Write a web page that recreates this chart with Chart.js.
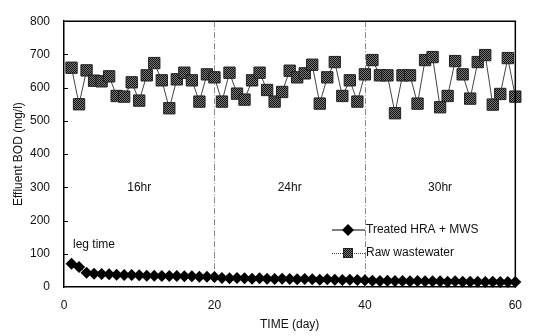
<!DOCTYPE html>
<html>
<head>
<meta charset="utf-8">
<script src="https://cdn.jsdelivr.net/npm/chart.js@4.4.0/dist/chart.umd.min.js"></script>
<style>
  html, body { margin: 0; padding: 0; background: #fff; }
  #wrap { width: 533px; height: 336px; }
</style>
</head>
<body>
<div id="wrap"><canvas id="bodChart"></canvas></div>
<script>
// days of operation
var days = [1, 2, 3, 4, 5, 6, 7, 8, 9, 10, 11, 12, 13, 14, 15, 16, 17, 18, 19, 20,
            21, 22, 23, 24, 25, 26, 27, 28, 29, 30, 31, 32, 33, 34, 35, 36, 37, 38, 39, 40,
            41, 42, 43, 44, 45, 46, 47, 48, 49, 50, 51, 52, 53, 54, 55, 56, 57, 58, 59, 60];

// effluent BOD, treated HRA + MWS (mg/l)
var treated = [70, 60, 43, 40, 39, 38, 37, 36, 36, 35, 34, 34, 33, 33, 33, 32, 32, 31, 31, 30,
               27, 26, 27, 26, 25, 26, 25, 24, 25, 24, 23, 24, 23, 22, 23, 22, 21, 22, 21, 20,
               19, 18, 19, 18, 18, 17, 18, 17, 17, 17, 16, 17, 16, 16, 16, 15, 16, 15, 15, 15];

// raw wastewater BOD (mg/l)
var raw = [660, 550, 652, 621, 619, 634, 575, 573, 616, 561, 637, 674, 622, 538, 625, 645, 622, 558, 640, 631,
           558, 645, 582, 564, 622, 645, 593, 558, 587, 651, 631, 643, 669, 552, 631, 677, 575, 622, 558, 640,
           683, 637, 637, 523, 637, 637, 552, 683, 692, 541, 575, 680, 640, 567, 677, 698, 549, 581, 689, 573];

var seriesNames = ['Treated HRA + MWS', 'Raw wastewater'];
var phaseBounds = [20, 40];
var phaseLabels = ['16hr', '24hr', '30hr'];
var phaseLabelX = [10, 30, 50];
var phaseLabelY = 300;

var FONT = 'Liberation Sans, Arial, sans-serif';

// halftone fill like the scanned squares
function makePattern() {
    var c = document.createElement('canvas');
    c.width = 2; c.height = 2;
    var g = c.getContext('2d');
    g.fillStyle = '#777'; g.fillRect(0, 0, 2, 2);
    g.fillStyle = '#111'; g.fillRect(0, 0, 1, 1); g.fillRect(1, 1, 1, 1);
    return g.createPattern(c, 'repeat');
}
var squareFill = makePattern();

function toPoints(ys) {
    return days.map(function (d, i) { return { x: d, y: ys[i] }; });
}

var extras = {
    id: 'extras',
    beforeDatasetsDraw: function (chart) {
        var ctx = chart.ctx, a = chart.chartArea, xs = chart.scales.x;
        ctx.save();
        ctx.strokeStyle = '#888';
        ctx.lineWidth = 1;
        ctx.setLineDash([6, 2, 1, 2]);
        phaseBounds.forEach(function (b) {
            var px = Math.round(xs.getPixelForValue(b)) + 0.5;
            ctx.beginPath();
            ctx.moveTo(px, a.top);
            ctx.lineTo(px, a.bottom);
            ctx.stroke();
        });
        ctx.restore();
    },
    afterDraw: function (chart) {
        var ctx = chart.ctx, a = chart.chartArea, xs = chart.scales.x, ys = chart.scales.y;
        ctx.save();
        // frame
        ctx.strokeStyle = '#000';
        ctx.lineWidth = 1.5;
        ctx.beginPath();
        ctx.moveTo(a.left, a.top);
        ctx.lineTo(a.right, a.top);
        ctx.lineTo(a.right, a.bottom);
        ctx.stroke();
        // inner y ticks
        ctx.lineWidth = 1;
        for (var v = 100; v < 800; v += 100) {
            var py = Math.round(ys.getPixelForValue(v)) + 0.5;
            ctx.beginPath();
            ctx.moveTo(a.left, py);
            ctx.lineTo(a.left + 4, py);
            ctx.stroke();
        }
        // phase labels
        ctx.fillStyle = '#111';
        ctx.font = '12px ' + FONT;
        ctx.textAlign = 'center';
        ctx.textBaseline = 'middle';
        phaseLabels.forEach(function (t, i) {
            ctx.fillText(t, xs.getPixelForValue(phaseLabelX[i]), ys.getPixelForValue(phaseLabelY));
        });
        ctx.textAlign = 'left';
        ctx.fillText('leg time', a.left + 9, ys.getPixelForValue(128));

        // legend
        var lx = 332, rows = [230, 253];
        ctx.strokeStyle = '#000';
        ctx.lineWidth = 1;
        ctx.beginPath();
        ctx.moveTo(lx, rows[0]); ctx.lineTo(lx + 33, rows[0]);
        ctx.stroke();
        ctx.fillStyle = '#000';
        ctx.beginPath();
        ctx.moveTo(lx + 16, rows[0] - 6);
        ctx.lineTo(lx + 22, rows[0]);
        ctx.lineTo(lx + 16, rows[0] + 6);
        ctx.lineTo(lx + 10, rows[0]);
        ctx.closePath();
        ctx.fill();

        ctx.strokeStyle = '#444';
        ctx.setLineDash([1, 1]);
        ctx.beginPath();
        ctx.moveTo(lx, rows[1] + 0.5); ctx.lineTo(lx + 33, rows[1] + 0.5);
        ctx.stroke();
        ctx.setLineDash([]);
        ctx.fillStyle = squareFill;
        ctx.fillRect(lx + 11, rows[1] - 5, 10, 10);
        ctx.strokeStyle = '#222';
        ctx.strokeRect(lx + 11.5, rows[1] - 4.5, 9, 9);

        ctx.fillStyle = '#111';
        ctx.fillText(seriesNames[0], lx + 34, rows[0]);
        ctx.fillText(seriesNames[1], lx + 34, rows[1]);
        ctx.restore();
    }
};

var ctx = document.getElementById('bodChart').getContext('2d');
var chart = new Chart(ctx, {
    type: 'line',
    data: {
        datasets: [{
            label: seriesNames[0],
            data: toPoints(treated),
            borderColor: '#000',
            borderWidth: 1,
            pointStyle: 'rectRot',
            pointRadius: 6,
            pointBackgroundColor: '#000',
            pointBorderColor: '#000',
            pointBorderWidth: 0,
            tension: 0,
            clip: false
        }, {
            label: seriesNames[1],
            data: toPoints(raw),
            borderColor: '#444',
            borderWidth: 1,
            pointStyle: 'rect',
            pointRadius: 8,
            pointBackgroundColor: squareFill,
            pointBorderColor: '#222',
            pointBorderWidth: 1,
            tension: 0,
            clip: false
        }]
    },
    options: {
        responsive: true,
        maintainAspectRatio: false,
        animation: false,
        layout: { padding: { left: 0, right: 16, top: 12, bottom: 0 } },
        plugins: {
            legend: { display: false },
            tooltip: { enabled: false }
        },
        scales: {
            x: {
                type: 'linear',
                min: 0,
                max: 60,
                grid: { display: false, drawTicks: false },
                border: { display: true, color: '#000', width: 1.5 },
                ticks: { stepSize: 20, padding: 11, color: '#111', font: { family: FONT, size: 12 } },
                title: { display: true, text: 'TIME (day)', color: '#111',
                         font: { family: FONT, size: 12 }, padding: { top: 0, bottom: 4 } },
                afterFit: function (scale) { scale.height = 49; }
            },
            y: {
                min: 0,
                max: 800,
                grid: { display: false, drawTicks: false },
                border: { display: true, color: '#000', width: 1.5 },
                ticks: { stepSize: 100, padding: 14, color: '#111', font: { family: FONT, size: 12 } },
                title: { display: true, text: 'Effluent BOD (mg/l)', color: '#111',
                         font: { family: FONT, size: 12 }, padding: { top: 11, bottom: 0 } },
                afterFit: function (scale) { scale.width = 64; }
            }
        }
    },
    plugins: [extras]
});
</script>
</body>
</html>
